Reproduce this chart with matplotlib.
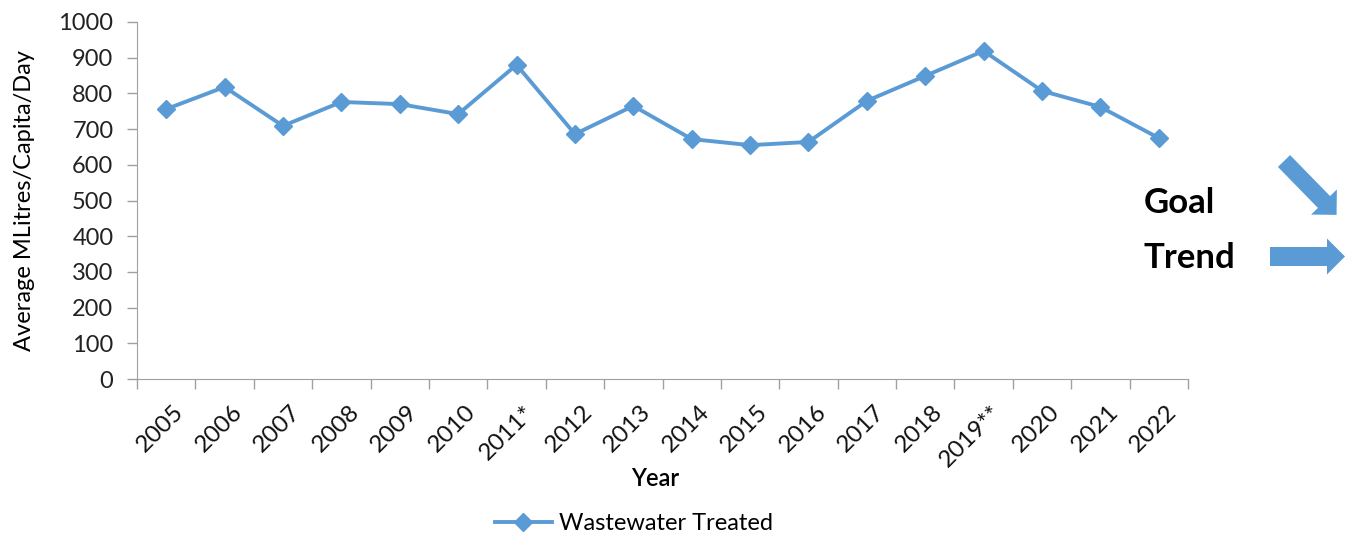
import numpy as np
import matplotlib.pyplot as plt
from matplotlib.patches import FancyArrow

years = ["2005", "2006", "2007", "2008", "2009", "2010", "2011*", "2012", "2013",
         "2014", "2015", "2016", "2017", "2018", "2019**", "2020", "2021", "2022"]
treated = [756, 818, 709, 776, 770, 742, 880, 686, 765,
           672, 655, 664, 779, 849, 919, 807, 762, 675]

blue = "#5B9BD5"
plt.rcParams["font.family"] = ["Lato", "DejaVu Sans"]

fig = plt.figure(figsize=(13.57, 5.37), dpi=100)
ax = fig.add_axes([137 / 1357, 1 - 379 / 537, (1188 - 137) / 1357, (379 - 22) / 537])

x = np.arange(len(years)) + 0.5
ax.plot(x, treated, color=blue, lw=2.8, marker="D", markersize=9,
        label="Wastewater Treated")

ax.set_xlim(0, len(years))
ax.set_ylim(0, 1000)
ax.set_yticks(range(0, 1001, 100))
ax.set_xticks(np.arange(len(years) + 1))
ax.set_xticklabels([])
ax.tick_params(axis="both", direction="out", length=7, width=1, color="#a0a0a0",
               labelsize=17, labelcolor="#222222", pad=10)
for s in ["top", "right"]:
    ax.spines[s].set_visible(False)
for s in ["left", "bottom"]:
    ax.spines[s].set_color("#a0a0a0")

# rotated category labels centred under each point
for xi, lab in zip(x, years):
    ax.annotate(lab, xy=(xi, 0), xycoords=("data", "axes fraction"),
                xytext=(5, -16), textcoords="offset points",
                rotation=45, ha="right", va="top", rotation_mode="anchor",
                fontsize=17.5, color="#111111")

ax.set_ylabel("Average MLitres/Capita/Day", fontsize=17, labelpad=17)
fig.text(655 / 1357, 1 - 478 / 537, "Year", ha="center", va="center",
         fontsize=17, fontweight="semibold")

fig.legend(loc="center", bbox_to_anchor=(634 / 1357, 1 - 524 / 537), frameon=False,
           fontsize=17, handlelength=2.4, handletextpad=0.3)

# goal / trend indicators
ov = fig.add_axes([0, 0, 1, 1])
ov.set_xlim(0, 1357)
ov.set_ylim(537, 0)
ov.axis("off")
ov.text(1144, 213, "Goal", fontsize=25, fontweight="bold", va="baseline")
ov.text(1144, 268, "Trend", fontsize=25, fontweight="bold", va="baseline")
ov.add_patch(FancyArrow(1284, 161, 40, 41, width=17, head_width=36, head_length=18,
                        length_includes_head=False, color=blue, lw=0))
ov.add_patch(FancyArrow(1270, 256.5, 57, 0, width=19, head_width=36, head_length=18,
                        length_includes_head=False, color=blue, lw=0))

fig.savefig("out.png", dpi=100)
